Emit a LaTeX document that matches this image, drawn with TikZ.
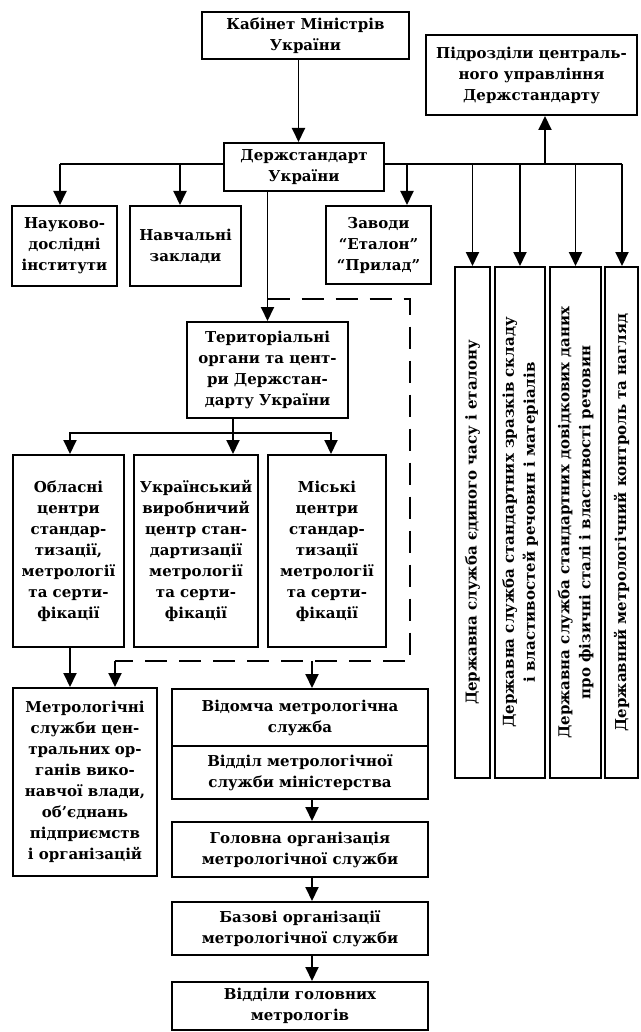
\documentclass[tikz,border=0pt]{standalone}
\usepackage{fontspec}
\setmainfont{DejaVu Serif}
\usetikzlibrary{arrows.meta}
\begin{document}
\begin{tikzpicture}[x=1pt,y=-1pt,
  box/.style={draw, line width=2pt, align=center, inner sep=0pt, font=\bfseries\fontsize{15}{21}\selectfont},
  vbox/.style={box, rotate=90, minimum width=511pt},
  link/.style={line width=1.9pt},
  arr/.style={link, -{Triangle[length=14pt,width=13pt]}},
  dashline/.style={line width=1.9pt, dash pattern=on 22pt off 12pt}
]
\useasboundingbox (0,0) rectangle (640,1032);

% top
\node[box, minimum width=207pt, minimum height=47pt] (kab) at (305.5,35.5) {Кабінет Міністрів\\України};
\node[box, minimum width=211pt, minimum height=80pt] (pidr) at (531.5,75) {Підрозділи централь-\\ного управління\\Держстандарту};
\node[box, minimum width=160pt, minimum height=48pt] (derzh) at (304,167) {Держстандарт\\України};

% second row
\node[box, minimum width=105pt, minimum height=80pt] (nauk) at (64.5,246) {Науково-\\дослідні\\інститути};
\node[box, minimum width=111pt, minimum height=80pt] (navch) at (185.5,246) {Навчальні\\заклади};
\node[box, minimum width=105pt, minimum height=78pt] (zavody) at (378.5,245) {Заводи\\“Еталон”\\“Прилад”};

% vertical boxes
\node[vbox, minimum height=35pt] (v1) at (472.5,522.5) {Державна служба єдиного часу і еталону};
\node[vbox, minimum height=50pt] (v2) at (520,522.5) {Державна служба стандартних зразків складу\\і властивостей речовин і матеріалів};
\node[vbox, minimum height=51pt] (v3) at (575.5,522.5) {Державна служба стандартних довідкових даних\\про фізичні сталі і властивості речовин};
\node[vbox, minimum height=33pt] (v4) at (621.5,522.5) {Державний метрологічний контроль та нагляд};

% territorial
\node[box, minimum width=161pt, minimum height=96pt] (ter) at (267.5,370) {Територіальні\\органи та цент-\\ри Держстан-\\дарту України};

\node[box, minimum width=111pt, minimum height=192pt] (obl) at (68.5,551) {Обласні\\центри\\стандар-\\тизації,\\метрології\\та серти-\\фікації};
\node[box, minimum width=124pt, minimum height=192pt] (ukr) at (196,551) {Український\\виробничий\\центр стан-\\дартизації\\метрології\\та серти-\\фікації};
\node[box, minimum width=118pt, minimum height=192pt] (misk) at (327,551) {Міські\\центри\\стандар-\\тизації\\метрології\\та серти-\\фікації};

% bottom
\node[box, minimum width=144pt, minimum height=188pt] (metr) at (85,782) {Метрологічні\\служби цен-\\тральних ор-\\ганів вико-\\навчої влади,\\об’єднань\\підприємств\\і організацій};
\node[box, minimum width=256pt, minimum height=57pt] (vidomcha) at (300,717.5) {Відомча метрологічна\\служба};
\node[box, minimum width=256pt, minimum height=53pt] (viddil) at (300,772.5) {Відділ метрологічної\\служби міністерства};
\node[box, minimum width=256pt, minimum height=55pt] (holovna) at (300,849.5) {Головна організація\\метрологічної служби};
\node[box, minimum width=256pt, minimum height=53pt] (bazovi) at (300,928.5) {Базові організації\\метрологічної служби};
\node[box, minimum width=256pt, minimum height=48pt] (viddily) at (300,1006) {Відділи головних\\метрологів};

% connectors top
\draw[arr] ([xshift=-7pt]kab.south) -- ([xshift=-7pt]kab.south |- derzh.north);

\coordinate (busL) at (60,164);
\coordinate (busN) at (180,164);
\coordinate (busR) at (622,164);
\coordinate (busZ) at (407,164);
\coordinate (busP) at (545,164);
\draw[link] (derzh.west |- busL) -- (busL);
\draw[arr] (busL) -- (busL |- nauk.north);
\draw[arr] (busN) -- (busN |- navch.north);
\draw[link] (derzh.east |- busR) -- (busR);
\draw[arr] (busR) -- (busR |- v4.east);
\draw[arr] (busZ) -- (busZ |- zavody.north);
\draw[arr] (v1.east |- busR) -- (v1.east);
\draw[arr] (v2.east |- busR) -- (v2.east);
\draw[arr] (v3.east |- busR) -- (v3.east);
\draw[arr] (busP) -- (busP |- pidr.south);

\draw[arr] (derzh.south -| ter.north) -- (ter.north);

% dashed loop
\coordinate (d0) at (267.5,299);
\coordinate (d1) at (410,299);
\coordinate (d2) at (410,661);
\coordinate (d3) at (115,661);
\coordinate (d4) at (312,661);
\draw[dashline] (d0) -- (d1) -- (d2) -- (d3);
\draw[arr] (d3) -- (d3 |- metr.north);
\draw[arr] (d4) -- (d4 |- vidomcha.north);

% territorial bus
\coordinate (tb) at (233,433);
\coordinate (tL) at (70,433);
\coordinate (tR) at (331,433);
\draw[arr] (tb |- ter.south) -- (tb |- ukr.north);
\draw[arr] (tb) -| (tL |- obl.north);
\draw[arr] (tb) -| (tR |- misk.north);

\draw[arr] (tL |- obl.south) -- (tL |- metr.north);

% chain
\draw[arr] ([xshift=12pt]viddil.south) -- ([xshift=12pt]holovna.north);
\draw[arr] ([xshift=12pt]holovna.south) -- ([xshift=12pt]bazovi.north);
\draw[arr] ([xshift=12pt]bazovi.south) -- ([xshift=12pt]viddily.north);
\end{tikzpicture}
\end{document}
